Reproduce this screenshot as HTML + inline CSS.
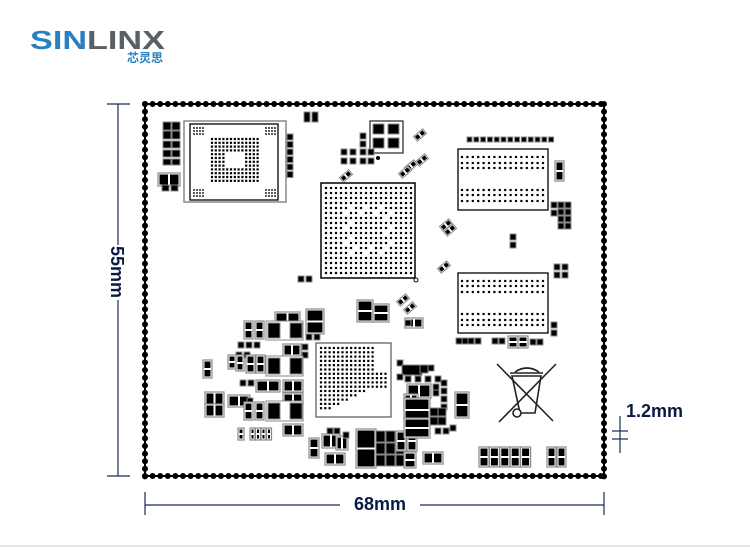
<!DOCTYPE html>
<html><head><meta charset="utf-8"><style>
html,body{margin:0;padding:0;background:#fff;width:750px;height:550px;overflow:hidden}
svg{display:block}
</style></head><body>
<svg id="s" width="750" height="550" viewBox="0 0 750 550" xmlns="http://www.w3.org/2000/svg">
<text x="30" y="49" font-family="Liberation Sans, sans-serif" font-weight="bold" font-size="26" fill="#2a7fc0" textLength="135" lengthAdjust="spacingAndGlyphs">SIN<tspan fill="#5a5f66">LINX</tspan></text>
<text x="127" y="62" font-family="Liberation Sans, 'Noto Sans CJK SC', sans-serif" font-size="12" font-weight="bold" fill="#2a7fc0">芯灵思</text>
<g stroke="#1a2a55" stroke-width="1.2" fill="none">
<line x1="118" y1="104" x2="118" y2="245"/><line x1="118" y1="300" x2="118" y2="476"/>
<line x1="107" y1="104" x2="130" y2="104"/><line x1="107" y1="476" x2="130" y2="476"/>
<line x1="145" y1="505" x2="340" y2="505"/><line x1="420" y1="505" x2="604" y2="505"/>
<line x1="145" y1="492" x2="145" y2="515"/><line x1="604" y1="492" x2="604" y2="515"/>
<line x1="620" y1="416" x2="620" y2="453"/><line x1="612" y1="431" x2="628" y2="431"/><line x1="612" y1="439" x2="628" y2="439"/>
</g>
<text transform="translate(111,272) rotate(90)" text-anchor="middle" font-family="Liberation Sans, sans-serif" font-weight="bold" font-size="18" fill="#0a1a44">55mm</text>
<text x="380" y="510" text-anchor="middle" font-family="Liberation Sans, sans-serif" font-weight="bold" font-size="18" fill="#0a1a44">68mm</text>
<text x="626" y="417" font-family="Liberation Sans, sans-serif" font-weight="bold" font-size="18" fill="#0a1a44">1.2mm</text>
<line x1="0" y1="546" x2="750" y2="546" stroke="#ccc" stroke-width="1"/>
<rect x="145" y="104" width="459" height="372" fill="none" stroke="#000" stroke-width="2"/>
<g id="g"></g>
<g stroke="#222" stroke-width="1.6" fill="none">
<line x1="497" y1="364" x2="553" y2="421"/><line x1="556" y1="364" x2="499" y2="422"/>
<path d="M512 376 L520 413 L535 413 L541 376 Z"/><line x1="510" y1="373" x2="543" y2="373"/>
<path d="M515 372 Q527 364 539 372"/><circle cx="517" cy="413" r="4" fill="#fff"/>
</g>
</svg>
<script>
var g=document.getElementById('g'),h='';
function R(x,y,w,hh,f,s,sw){h+='<rect x="'+x+'" y="'+y+'" width="'+w+'" height="'+hh+'" fill="'+(f||'none')+'"'+(s?' stroke="'+s+'" stroke-width="'+(sw||1)+'"':'')+'/>';}
function C(x,y,r){h+='<circle cx="'+x+'" cy="'+y+'" r="'+r+'" fill="#000"/>';}
for(var x=145;x<=605;x+=7.6){C(x,104,3);C(x,476,3);}
for(var y=104;y<=477;y+=7.6){C(145,y,3);C(604,y,3);}
function cv(x,y,w,hh){R(x,y,w,hh,'#fff','#888',1.2);var p=(hh-3)/2-1;R(x+1.5,y+1.5,w-3,p,'#000');R(x+1.5,y+hh-1.5-p,w-3,p,'#000');}
function ch(x,y,w,hh){R(x,y,w,hh,'#fff','#888',1.2);var p=(w-3)/2-1;R(x+1.5,y+1.5,p,hh-3,'#000');R(x+w-1.5-p,y+1.5,p,hh-3,'#000');}
function sq(x,y,w,hh){R(x,y,w,hh,'#000','#888',1);}
function dia(x,y){h+='<g transform="translate('+x+','+y+') rotate(-40)"><rect x="-6" y="-3" width="12" height="6" fill="#fff" stroke="#888"/><rect x="-5" y="-2" width="4" height="4" fill="#000"/><rect x="1" y="-2" width="4" height="4" fill="#000"/></g>';}
function grid(x0,y0,nx,ny,dx,dy,r,skip){for(var i=0;i<nx;i++)for(var j=0;j<ny;j++){if(skip&&skip(i,j))continue;R(x0+i*dx-r,y0+j*dy-r,2*r,2*r,'#000');}}
R(184,121,102,81,'none','#888',1.5);R(190,124,88,76,'none','#000',1.3);
grid(212,139,13,12,3.8,3.8,1.1,function(i,j){return i>=3&&i<=9&&j>=3&&j<=8&&!(i==3||i==9||j==3||j==8);});
grid(194,128,4,3,3,3,0.8);grid(266,128,4,3,3,3,0.8);grid(194,190,4,3,3,3,0.8);grid(266,190,4,3,3,3,0.8);
R(321,183,94,95,'none','#000',1.5);
grid(326,188,18,18,5,5,1.1,function(i,j){return (i>=4&&i<=13&&j>=4&&j<=13&&!(i>=6&&i<=11&&j>=6&&j<=11))&&((i+j)%3==0);});
h+='<circle cx="416" cy="280" r="2" fill="#fff" stroke="#000"/>';
R(458,149,90,61,'none','#000',1.3);R(458,273,90,60,'none','#000',1.3);
[157,163,168,190,195,201].forEach(function(y){grid(462,y,16,1,5.4,0,1.1);});
[281,286,292,314,320,325].forEach(function(y){grid(462,y,16,1,5.4,0,1.1);});
R(316,343,75,74,'none','#555',1.2);
grid(321,348,16,15,4.3,4.3,1.1,function(i,j){return (j<6&&i>12)||(j>9&&i>12-(j-9)*2);});
sq(163,122,8,8);sq(172,122,8,8);sq(163,131,8,8);sq(172,131,8,8);sq(163,141,8,7);sq(172,141,8,7);
sq(163,150,8,7);sq(172,150,8,7);sq(163,159,8,6);sq(172,159,8,6);ch(158,173,22,13);sq(162,185,7,6);sq(171,185,7,6);
for(var k=0;k<6;k++)sq(287,134+k*7.5,6,6);
sq(304,112,6,10);sq(312,112,6,10);
R(370,121,33,32,'#fff','#333',1.3);sq(373,124,11,10);sq(388,124,11,10);sq(373,138,11,10);sq(388,138,11,10);C(378,158,2);
sq(360,133,6,6);sq(360,141,6,6);sq(341,149,6,6);sq(350,149,6,6);sq(360,149,6,6);sq(368,149,6,6);sq(341,158,6,6);sq(350,158,6,6);sq(360,158,6,6);sq(368,158,6,6);
dia(346,176);dia(420,135);dia(411,166);dia(422,160);dia(405,172);
dia(450,230);dia(446,225);dia(403,300);dia(410,308);dia(444,267);
sq(298,276,6,6);sq(306,276,6,6);
for(var k=0;k<13;k++)sq(467+k*6.8,137,5,5);
cv(555,161,9,20);sq(551,202,6,6);sq(551,210,6,6);
for(var a=0;a<2;a++)for(var b=0;b<4;b++)sq(558+a*7,202+b*7,6,6);
sq(510,234,6,6);sq(510,242,6,6);sq(554,264,6,6);sq(562,264,6,6);sq(554,272,6,6);sq(562,272,6,6);
sq(551,322,6,6);sq(551,330,6,6);ch(405,318,18,10);
[456,462,468,475,492,499].forEach(function(x){sq(x,338,6,6);});cv(508,336,10,12);cv(518,336,10,12);sq(530,339,6,6);sq(537,339,6,6);
ch(275,312,25,13);cv(306,309,18,25);sq(306,334,6,6);sq(314,334,6,6);
cv(357,300,16,22);cv(373,304,16,18);sq(405,320,6,6);
cv(244,321,9,18);cv(255,321,9,18);R(266,321,37,19,'#fff','#888');sq(268,323,12,15);sq(290,323,12,15);
sq(238,342,6,6);sq(246,342,6,6);sq(254,342,6,6);sq(236,352,6,6);sq(244,352,6,6);sq(302,344,6,6);sq(302,352,6,6);
ch(283,344,18,12);
cv(228,355,8,14);cv(236,355,8,16);cv(246,355,9,18);cv(256,355,9,18);
R(266,356,37,20,'#fff','#888');sq(268,358,12,16);sq(290,358,12,16);
cv(203,360,9,18);
sq(240,380,6,6);sq(248,380,6,6);ch(256,380,24,12);ch(283,380,20,12);ch(283,393,20,12);
ch(205,392,19,13);ch(205,404,19,13);ch(228,395,22,12);sq(247,398,6,6);
cv(244,402,9,18);cv(255,402,9,18);R(266,401,37,20,'#fff','#888');sq(268,403,12,16);sq(290,403,12,16);
ch(283,424,20,12);cv(238,428,6,12);for(var k=0;k<4;k++)cv(250+k*5.5,428,5,12);
sq(327,428,6,6);sq(334,428,6,6);ch(322,434,18,14);ch(336,436,12,14);sq(343,432,6,6);
cv(309,438,10,20);ch(325,453,20,12);cv(356,429,20,39);
for(var a=0;a<3;a++)for(var b=0;b<3;b++)sq(376+a*10,431+b*12,9,11);
cv(396,431,10,20);cv(407,431,10,20);
cv(404,452,12,16);ch(423,452,20,12);
sq(397,360,6,6);sq(402,365,20,10);sq(420,365,8,8);sq(428,365,6,6);sq(397,374,6,6);sq(405,376,6,6);sq(415,376,6,6);sq(425,376,6,6);sq(435,376,6,6);
ch(407,384,24,14);sq(433,384,6,6);sq(433,390,6,6);sq(441,380,6,6);sq(441,388,6,6);sq(441,396,6,6);sq(441,404,6,6);
ch(404,394,14,17);cv(404,398,26,24);cv(404,418,26,20);sq(430,408,8,8);sq(438,408,8,8);sq(430,417,8,8);sq(438,417,8,8);sq(435,428,6,6);sq(443,428,6,6);
cv(455,392,14,26);sq(450,425,6,6);
for(var k=0;k<5;k++)cv(479+k*10.4,447,10,20);
cv(547,447,9,20);cv(557,447,9,20);
g.innerHTML=h;
</script>
</body></html>
